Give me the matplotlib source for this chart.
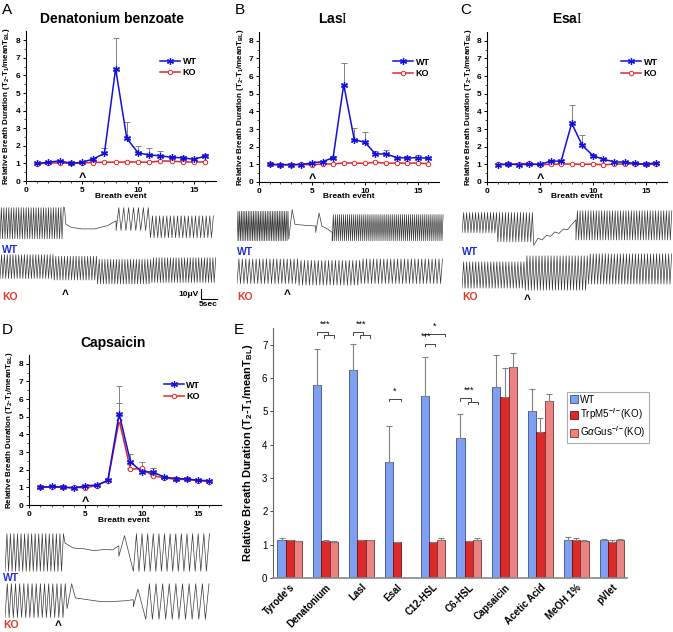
import numpy as np
import matplotlib
matplotlib.use("Agg")
import matplotlib.pyplot as plt
from matplotlib.lines import Line2D

plt.rcParams['font.family'] = ['Liberation Sans', 'DejaVu Sans']
plt.rcParams['mathtext.fontset'] = 'custom'
plt.rcParams['mathtext.rm'] = 'Liberation Serif'
plt.rcParams['mathtext.sf'] = 'Liberation Sans:bold'
plt.rcParams['mathtext.it'] = 'Liberation Sans:italic'
plt.rcParams['mathtext.bf'] = 'Liberation Sans:bold'

# ---------------- data ----------------
events = list(range(1, 17))

den_wt = [1.00, 1.06, 1.15, 1.00, 1.06, 1.25, 1.57, 6.39, 2.42, 1.61, 1.47, 1.44, 1.34, 1.32, 1.23, 1.42]
den_wt_err = [0.04, 0.04, 0.05, 0.04, 0.05, 0.08, 0.28, 1.74, 0.94, 0.38, 0.38, 0.26, 0.08, 0.08, 0.05, 0.10]
den_ko = [0.97, 1.02, 1.03, 1.00, 1.03, 1.05, 1.07, 1.07, 1.08, 1.08, 1.06, 1.14, 1.13, 1.09, 1.07, 1.09]

las_wt = [1.00, 0.98, 0.97, 0.99, 1.08, 1.15, 1.38, 5.52, 2.40, 2.25, 1.59, 1.59, 1.38, 1.36, 1.38, 1.34]
las_wt_err = [0.03, 0.03, 0.03, 0.03, 0.04, 0.05, 0.10, 1.23, 0.66, 0.57, 0.16, 0.20, 0.06, 0.09, 0.17, 0.06]
las_ko = [1.00, 0.98, 0.99, 1.00, 0.97, 1.02, 1.02, 1.08, 1.07, 1.06, 1.12, 1.06, 1.08, 1.06, 1.08, 1.03]

esa_wt = [0.98, 1.00, 0.99, 1.00, 1.00, 1.18, 1.18, 3.33, 2.07, 1.50, 1.28, 1.15, 1.12, 1.05, 1.00, 1.10]
esa_wt_err = [0.03, 0.03, 0.03, 0.03, 0.03, 0.05, 0.05, 1.02, 0.58, 0.10, 0.06, 0.05, 0.04, 0.03, 0.03, 0.05]
esa_ko = [1.02, 1.00, 1.03, 1.05, 0.98, 1.00, 1.02, 1.02, 1.00, 1.02, 0.97, 1.02, 1.02, 1.03, 1.00, 1.00]

cap_wt = [1.00, 1.05, 1.02, 0.95, 1.10, 1.12, 1.40, 5.17, 2.45, 1.88, 1.87, 1.58, 1.50, 1.48, 1.40, 1.38]
cap_wt_err = [0.04, 0.04, 0.04, 0.05, 0.05, 0.05, 0.08, 1.60, 0.45, 0.10, 0.20, 0.05, 0.05, 0.05, 0.04, 0.05]
cap_ko = [1.00, 1.02, 1.00, 1.00, 0.98, 1.10, 1.38, 4.80, 2.02, 2.08, 1.65, 1.55, 1.45, 1.45, 1.38, 1.33]
cap_ko_err = [0.03, 0.03, 0.03, 0.03, 0.03, 0.04, 0.06, 1.00, 0.10, 0.34, 0.06, 0.04, 0.04, 0.04, 0.04, 0.04]

categories = ["Tyrode's", "Denatonium", "LasI", "EsaI", "C12-HSL", "C6-HSL",
              "Capsaicin", "Acetic Acid", "MeOH 1%", "pVlet"]
bar_wt = [1.15, 5.80, 6.25, 3.48, 5.45, 4.20, 5.72, 5.02, 1.15, 1.14]
bar_wt_err = [0.04, 1.08, 0.78, 1.07, 1.18, 0.72, 0.98, 0.66, 0.08, 0.03]
bar_trpm5 = [1.13, 1.12, 1.13, 1.08, 1.08, 1.10, 5.43, 4.38, 1.15, 1.07]
bar_trpm5_err = [0.02, 0.01, 0.01, 0.01, 0.01, 0.01, 0.87, 0.42, 0.05, 0.07]
bar_gus = [1.11, 1.09, 1.13, np.nan, 1.15, 1.15, 6.32, 5.32, 1.10, 1.14]
bar_gus_err = [0.01, 0.01, 0.01, np.nan, 0.05, 0.05, 0.43, 0.21, 0.05, 0.03]

# significance: (category, left offset, right offset, height, stars)
sig_brackets = [
    (1, -1.0, 0.25, 7.37, None), (1, -0.2, 1.0, 7.28, '***'),
    (2, -1.0, 0.25, 7.37, None), (2, -0.2, 1.0, 7.28, '***'),
    (3, -1.0, 0.4, 5.38, '*'),
    (4, -1.0, 1.4, 7.33, '*'), (4, -1.0, 0.2, 7.03, '***'),
    (5, -1.0, 0.3, 5.40, None), (5, -0.15, 1.1, 5.29, '***'),
]

# schematic breathing traces: ("osc", x0, x1, cycles, lo, hi) or ("path", xs, ys)
trace_a_wt = [("osc", 0, 30, 26, 0.05, 1.0),
              ("path", [30, 30.6, 33, 38, 44, 50, 54], [1.0, 0.5, 0.4, 0.35, 0.35, 0.45, 0.6]),
              ("osc", 54, 70, 7, 0.3, 1.0),
              ("osc", 70, 100, 18, 0.08, 0.75)]
trace_a_ko = [("osc", 0, 25, 19, 0.25, 1.0), ("osc", 25, 45, 15, 0.2, 0.95),
              ("osc", 45, 70, 19, 0.08, 0.85), ("osc", 70, 100, 23, 0.12, 0.9)]
trace_b_wt = [("osc", 0, 25, 30, 0.05, 0.95), ("osc", 25, 28, 1, 0.1, 1.0),
              ("path", [28, 33, 38], [0.55, 0.52, 0.5]), ("osc", 38, 41, 1, 0.3, 0.9),
              ("path", [41, 44, 46], [0.5, 0.4, 0.3]),
              ("osc", 46, 100, 55, 0.05, 0.85)]
trace_b_ko = [("osc", 0, 30, 18, 0.1, 0.95), ("osc", 30, 60, 18, 0.05, 0.9),
              ("osc", 60, 100, 24, 0.1, 0.95)]
trace_c_wt = [("osc", 0, 17, 12, 0.4, 0.95), ("osc", 17, 34, 12, 0.15, 0.95),
              ("path", [34, 36, 38, 40, 42, 44, 46, 48, 50, 52, 54],
               [0.05, 0.25, 0.2, 0.33, 0.3, 0.42, 0.38, 0.5, 0.48, 0.62, 0.75]),
              ("osc", 54, 100, 36, 0.2, 1.0)]
trace_c_ko = [("osc", 0, 30, 21, 0.15, 0.8), ("osc", 30, 60, 21, 0.1, 0.95),
              ("osc", 60, 100, 28, 0.25, 1.0)]
trace_d_wt = [("osc", 0, 29, 17, 0.0, 1.0),
              ("path", [29, 33, 38, 43, 48, 52, 55], [0.75, 0.62, 0.6, 0.55, 0.58, 0.57, 0.68]),
              ("osc", 55, 60, 1, 0.4, 0.95), ("osc", 62, 100, 14, 0.0, 1.0)]
trace_d_ko = [("osc", 0, 30, 15, 0.05, 1.0), ("osc", 30, 34, 1, 0.3, 1.0),
              ("path", [34, 40, 46, 52, 58, 62], [0.6, 0.55, 0.5, 0.5, 0.52, 0.55]),
              ("osc", 62, 66, 1, 0.35, 0.85), ("osc", 68, 100, 10, 0.0, 1.0)]

# ---------------- figure ----------------
W, H = 673, 632
fig = plt.figure(figsize=(W / 100, H / 100), dpi=100)
BLUE = '#1010e0'
RED = '#e02828'
GRAY = '#808080'


def ax_px(l, t, r, b, **kw):
    return fig.add_axes([l / W, 1 - b / H, (r - l) / W, (b - t) / H], **kw)


overlay = ax_px(0, 0, W, H)
overlay.set_xlim(0, W)
overlay.set_ylim(H, 0)
overlay.axis('off')


def line_panel(box, wt, wt_err, ko, ko_err, leg_xy):
    ax = ax_px(*box)
    ax.errorbar(events, wt, yerr=[np.zeros(len(wt)), wt_err], fmt='none',
                ecolor=GRAY, elinewidth=0.7, capsize=2, capthick=0.7, zorder=1)
    if ko_err is not None:
        ax.errorbar(events, ko, yerr=[np.zeros(len(ko)), ko_err], fmt='none',
                    ecolor=GRAY, elinewidth=0.7, capsize=2, capthick=0.7, zorder=1)
    ax.plot(events, ko, color=RED, lw=1.1, marker='o', ms=3.2, mfc='white',
            mec=RED, mew=0.7, zorder=3)
    ax.plot(events, wt, color=BLUE, lw=1.1, marker=(6, 2, 0), ms=5, mec=BLUE,
            mew=0.9, zorder=4)
    ax.set_xlim(0, 17)
    ax.set_ylim(0, 8.5)
    ax.set_xticks([0, 5, 10, 15])
    ax.set_xticks(range(0, 17), minor=True)
    ax.set_yticks(range(0, 9))
    ax.set_yticks(np.arange(0.5, 8.5, 1.0), minor=True)
    for s in ['top', 'right']:
        ax.spines[s].set_visible(False)
    for s in ['left', 'bottom']:
        ax.spines[s].set_linewidth(0.8)
    ax.tick_params(which='major', direction='out', length=2.5, width=0.7,
                   labelsize=6, pad=1.5)
    ax.tick_params(which='minor', direction='out', length=1.3, width=0.5)
    for lab in ax.get_xticklabels() + ax.get_yticklabels():
        lab.set_fontweight('bold')
    handles = [Line2D([], [], color=BLUE, lw=1.1, marker=(6, 2, 0), ms=5, mec=BLUE, mew=0.9),
               Line2D([], [], color=RED, lw=1.1, marker='o', ms=3.2, mfc='white', mec=RED, mew=0.7)]
    ax.legend(handles, ['WT', 'KO'], loc='upper left', bbox_to_anchor=leg_xy,
              frameon=False, prop={'size': 6.5, 'weight': 'bold'}, handlelength=2.2,
              handletextpad=0.3, labelspacing=0.25, borderpad=0)
    ax.text(5, 0.0, '^', ha='center', va='baseline', fontsize=9, fontweight='bold')
    return ax


ylab = r"Relative Breath Duration (T$_\mathsf{2}$-T$_\mathsf{1}$/meanT$_\mathsf{BL}$)"

line_panel((26, 31.4, 216.4, 181), den_wt, den_wt_err, den_ko, None, (0.68, 0.86))
line_panel((259, 32, 439, 182), las_wt, las_wt_err, las_ko, None, (0.72, 0.86))
line_panel((487, 32, 667, 182), esa_wt, esa_wt_err, esa_ko, None, (0.72, 0.86))
line_panel((29, 355, 220.6, 505), cap_wt, cap_wt_err, cap_ko, cap_ko_err, (0.68, 0.86))

# titles, panel letters, axis labels
for x, y, t in [(112, 19, 'Denatonium benzoate'), (333, 19, r'Las$\mathrm{I}$'),
                (567, 19, r'Esa$\mathrm{I}$'), (113, 343, 'Capsaicin')]:
    overlay.text(x, y, t, ha='center', va='center', fontsize=10, fontweight='bold')
for x, y, t in [(2, 10, 'A'), (235, 10, 'B'), (460, 10, 'C'), (2, 330, 'D'), (234, 330, 'E')]:
    overlay.text(x, y, t, ha='left', va='center', fontsize=11)
for x, y in [(7, 106), (240, 107), (468, 107), (10, 430)]:
    overlay.text(x, y, ylab, rotation=90, ha='center', va='center', fontsize=5.8,
                 fontweight='bold')
for x, y in [(121, 196), (349, 197), (577, 197), (124, 521)]:
    overlay.text(x, y, 'Breath event', ha='center', va='center', fontsize=6,
                 fontweight='bold')


# ---------------- traces ----------------
def build_trace(segs):
    xs, ys = [], []
    for seg in segs:
        if seg[0] == 'osc':
            _, x0, x1, n, lo, hi = seg
            p = (x1 - x0) / n
            for i in range(n):
                xs += [x0 + i * p, x0 + (i + 0.55) * p]
                ys += [lo, hi]
        else:
            xs += list(seg[1])
            ys += list(seg[2])
    return xs, ys


def trace(box, segs):
    ax = ax_px(*box)
    xs, ys = build_trace(segs)
    ax.plot(xs, ys, color='#3a3a3a', lw=0.5)
    ax.set_xlim(0, 100)
    ax.set_ylim(-0.02, 1.02)
    ax.axis('off')


trace((0, 207, 215, 241), trace_a_wt)
trace((0, 254, 217, 287), trace_a_ko)
trace((237, 209, 444, 243), trace_b_wt)
trace((237, 257, 444, 287), trace_b_ko)
trace((462, 210, 673, 248), trace_c_wt)
trace((462, 253, 673, 295), trace_c_ko)
trace((5, 533, 212, 572), trace_d_wt)
trace((5, 583, 212, 620), trace_d_ko)

for x, y in [(2, 250), (237, 252), (462, 252), (3, 578)]:
    overlay.text(x, y, 'WT', color='#2030d0', ha='left', va='center', fontsize=7.5,
                 fontweight='bold')
for x, y in [(2, 297), (237, 297), (462, 297), (3, 625)]:
    overlay.text(x, y, 'KO', color='#e03a2a', ha='left', va='center', fontsize=7.5,
                 fontweight='bold')
for x, y in [(65, 298), (287, 298), (527, 303)]:
    overlay.text(x, y, '^', ha='center', va='baseline', fontsize=8.5, fontweight='bold')
overlay.text(58, 631.5, '^', ha='center', va='bottom', fontsize=8.5, fontweight='bold')

# scale bar
overlay.plot([201, 201, 217], [289, 299, 299], color='black', lw=0.8)
overlay.text(199, 294, '10μV', ha='right', va='center', fontsize=6, fontweight='bold')
overlay.text(208, 304, '5sec', ha='center', va='center', fontsize=6, fontweight='bold')

# ---------------- panel E ----------------
axE = ax_px(273, 328, 627, 578)
x = np.arange(len(categories))
bw = 0.232
ekw = dict(ecolor=GRAY, elinewidth=0.8, capsize=2.5, capthick=0.8)
axE.bar(x - bw, bar_wt, bw, color='#7f9ff0', edgecolor='#39508a', lw=0.6,
        yerr=[np.zeros(len(x)), bar_wt_err], error_kw=ekw, label='WT', zorder=2)
axE.bar(x, bar_trpm5, bw, color='#dc2a2a', edgecolor='#6a1010', lw=0.6,
        yerr=[np.zeros(len(x)), bar_trpm5_err], error_kw=ekw,
        label=r'TrpM5$^{\mathsf{-/-}}$(KO)', zorder=2)
axE.bar(x + bw, bar_gus, bw, color='#ec8383', edgecolor='#7a3030', lw=0.6,
        yerr=[np.zeros(len(x)), np.nan_to_num(bar_gus_err)], error_kw=ekw,
        label=r'G$\alpha$Gus$^{\mathsf{-/-}}$(KO)', zorder=2)
axE.set_xlim(-0.47, 9.42)
axE.set_ylim(0, 7.5)
axE.set_yticks(range(0, 8))
axE.set_xticks(x)
axE.set_xticklabels(categories, rotation=45, ha='right', va='top',
                    rotation_mode='anchor', fontsize=7, fontweight='bold')
axE.tick_params(axis='x', length=0, pad=3)
axE.tick_params(axis='y', direction='out', length=2.5, width=0.7, labelsize=7,
                pad=1.5, color='#444')
for s in ['top', 'right']:
    axE.spines[s].set_visible(False)
axE.spines['left'].set_color('#666')
axE.spines['bottom'].set_color('#888')
axE.spines['bottom'].set_linewidth(1.2)
axE.set_ylabel(ylab, fontsize=8, fontweight='bold', labelpad=5)

for cat, lo_off, hi_off, h, star in sig_brackets:
    xa, xb = cat + lo_off * bw, cat + hi_off * bw
    axE.plot([xa, xa, xb, xb], [h - 0.08, h, h, h - 0.08], color='#444', lw=0.7)
for cat, lo_off, hi_off, h, star in sig_brackets:
    if star:
        top = max(b[3] for b in sig_brackets if b[0] == cat and
                  (b[3] >= h - 0.15) and b[3] <= h + 0.15)
        axE.text(cat + (lo_off + hi_off) / 2 * bw - (0.1 if star == '***' else 0),
                 top + 0.1, star, ha='center', va='bottom', fontsize=6.5)

leg = axE.legend(loc='upper left', bbox_to_anchor=(0.83, 0.745), fontsize=7,
                 frameon=True, fancybox=False, edgecolor='#999', handlelength=0.8,
                 handleheight=0.9, handletextpad=0.3, labelspacing=0.2,
                 borderpad=0.3, borderaxespad=0)
leg.get_frame().set_linewidth(0.8)

fig.savefig('out.png', dpi=100)
